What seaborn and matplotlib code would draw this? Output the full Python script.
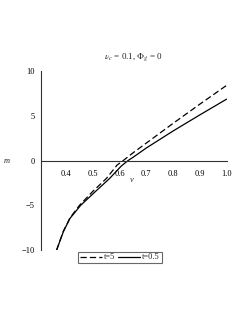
import numpy as np
import pandas as pd
import matplotlib
matplotlib.use("Agg")
import matplotlib.pyplot as plt
import seaborn as sns

# values
v_t5 = [0.365, 0.39, 0.415, 0.452, 0.50, 0.551, 0.591, 0.614, 0.65, 0.70, 0.80, 0.90, 1.00]
m_t5 = [-10.0, -7.9, -6.4, -4.95, -3.45, -2.0, -0.5, 0.0, 0.85, 1.95, 4.15, 6.3, 8.4]
v_t05 = [0.365, 0.39, 0.415, 0.455, 0.509, 0.563, 0.607, 0.632, 0.65, 0.70, 0.80, 0.90, 1.00]
m_t05 = [-10.0, -7.96, -6.46, -5.0, -3.49, -2.0, -0.6, 0.0, 0.35, 1.4, 3.3, 5.1, 6.86]
x_ticks = [0.4, 0.5, 0.6, 0.7, 0.8, 0.9, 1.0]
y_ticks = [-10, -5, 0, 5, 10]
labels = ["t=5", "t=0.5"]

sns.set_style("white")
plt.rcParams["font.family"] = ["Liberation Serif", "DejaVu Serif"]
plt.rcParams["mathtext.fontset"] = "stix"

fig = plt.figure(figsize=(2.49, 3.23), dpi=100)
ax = fig.add_axes([0.163, 0.226, 0.747, 0.554])

sns.lineplot(x=v_t5, y=m_t5, ax=ax, color="black", lw=0.9,
             linestyle=(0, (5, 2.5)), label=labels[0])
sns.lineplot(x=v_t05, y=m_t05, ax=ax, color="black", lw=0.9,
             label=labels[1])

ax.set_xlim(0.305, 1.0)
ax.set_ylim(-10, 10)
ax.set_xticks(x_ticks)
ax.set_xticklabels([f"{t:.1f}" for t in x_ticks])
ax.set_yticks(y_ticks)
ax.set_yticklabels([str(t) if t >= 0 else "\u2212" + str(-t) for t in y_ticks])

# maple style axes: x axis through zero
for s in ["top", "right"]:
    ax.spines[s].set_visible(False)
ax.spines["bottom"].set_position(("data", 0))
for s in ["left", "bottom"]:
    ax.spines[s].set_color("#333333")
    ax.spines[s].set_linewidth(0.8)
ax.tick_params(axis="both", labelsize=6, length=2, width=0.6,
               pad=2, colors="#333333", labelcolor="black")
ax.tick_params(axis="x", pad=5)

ax.set_xlabel("")
ax.set_ylabel("")
ax.text(-0.18, 0.5, "m", transform=ax.transAxes, fontsize=6,
        style="italic", ha="center", va="center")
ax.text(0.49, 0.39, "v", transform=ax.transAxes, fontsize=6,
        style="italic", ha="center", va="center")
ax.set_title(r"$\nu_c$ = 0.1, $\Phi_g$ = 0", fontsize=6.5, pad=9)

leg = ax.legend(loc="center", bbox_to_anchor=(0.482, 0.203),
                bbox_transform=fig.transFigure, ncol=2, fontsize=6,
                frameon=True, fancybox=False, handlelength=2.6,
                handletextpad=0.25, columnspacing=0.4, borderpad=0.2,
                borderaxespad=0)
leg.get_frame().set_edgecolor("#444444")
leg.get_frame().set_linewidth(0.8)

fig.savefig("out.png", dpi=100)
